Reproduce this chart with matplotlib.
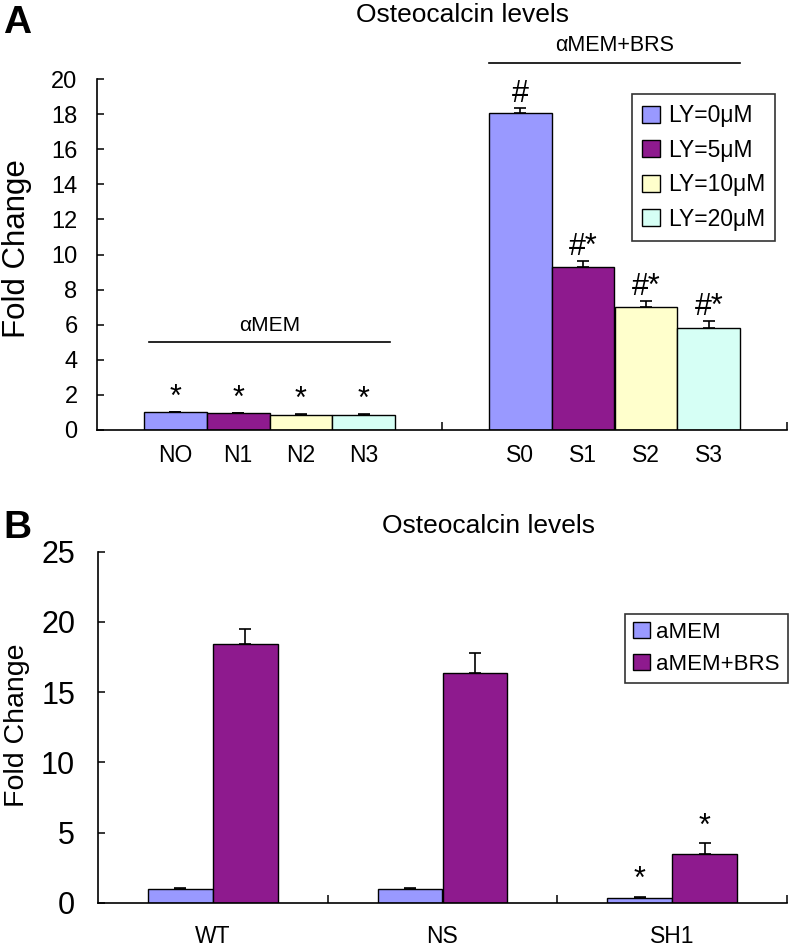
import numpy as np
import matplotlib
matplotlib.use("Agg")
import matplotlib.pyplot as plt

plt.rcParams["font.family"] = ["Liberation Sans", "DejaVu Sans"]

# ---- panel A: osteocalcin with LY294002 ----
groups_a = ["αMEM", "αMEM+BRS"]
series_a = ["LY=0μM", "LY=5μM", "LY=10μM", "LY=20μM"]
ticklabels_a = [["NO", "S0"], ["N1", "S1"], ["N2", "S2"], ["N3", "S3"]]
ly0 = [1.0, 18.05]
ly5 = [0.95, 9.3]
ly10 = [0.86, 6.99]
ly20 = [0.86, 5.79]
ly0_err = [0.02, 0.28]
ly5_err = [0.03, 0.35]
ly10_err = [0.08, 0.36]
ly20_err = [0.08, 0.44]
marks_a = [["*", "#"], ["*", "#*"], ["*", "#*"], ["*", "#*"]]

# ---- panel B: knockdown ----
cells_b = ["WT", "NS", "SH1"]
series_b = ["aMEM", "aMEM+BRS"]
amem_b = [0.95, 0.95, 0.31]
brs_b = [18.43, 16.34, 3.47]
amem_err_b = [0.12, 0.1, 0.12]
brs_err_b = [1.05, 1.47, 0.76]
marks_b = [["", "", "*"], ["", "", "*"]]

colors_a = ["#9999FF", "#8E1A8E", "#FFFFCC", "#D6FFF5"]
colors_b = ["#9999FF", "#8E1A8E"]

W, H = 792, 948
fig = plt.figure(figsize=(W / 100, H / 100), dpi=100)


def style_axes(ax, tick_size, ypad, xpad):
    for s in ("top", "right"):
        ax.spines[s].set_visible(False)
    for s in ("left", "bottom"):
        ax.spines[s].set_linewidth(1.2)
    ax.tick_params(axis="y", direction="in", length=5, width=1.1,
                   labelsize=tick_size, pad=ypad)
    ax.tick_params(axis="x", which="major", direction="in", length=6,
                   width=1.1, labelbottom=False)
    ax.tick_params(axis="x", which="minor", length=0, pad=xpad)


def top_marks(ax, xs, tops, marks, off, size):
    for x, t, m in zip(xs, tops, marks):
        if m:
            ax.annotate(m, (x, t), xytext=(0, off), textcoords="offset points",
                        ha="center", va="center", fontsize=size)


# ---------------- A ----------------
axA = fig.add_axes([97 / W, 1 - 430 / H, 690 / W, 351 / H])
x = np.arange(len(groups_a))
wa = 0.1826
vals = [ly0, ly5, ly10, ly20]
errs = [ly0_err, ly5_err, ly10_err, ly20_err]
centers = []
for i, (v, e) in enumerate(zip(vals, errs)):
    xi = x + (i - 1.5) * wa
    centers.append(xi)
    axA.bar(xi, v, wa, color=colors_a[i], edgecolor="black", linewidth=1.0,
            label=series_a[i], yerr=[np.zeros(len(e)), e], capsize=4,
            error_kw=dict(elinewidth=1.2, capthick=1.2, ecolor="black"))
    top_marks(axA, xi, np.array(v) + np.array(e), marks_a[i], 10, 22)

axA.set_xlim(-0.5, 1.5)
axA.set_ylim(0, 20)
axA.set_yticks(np.arange(0, 21, 2))
axA.set_xticks([0.5, 1.5])
minor = np.concatenate(centers)
axA.set_xticks(minor, minor=True)
axA.set_xticklabels([lab for labs in ticklabels_a for lab in labs],
                    minor=True, fontsize=16.5)
style_axes(axA, 17, 14, 10)
axA.set_ylabel("Fold Change", fontsize=22.5)
axA.yaxis.set_label_coords(-0.094, 0.516)

# group brackets
left = centers[0] - wa / 2
right = centers[-1] + wa / 2
bracket_y = [5.0, 20.9]
for g in range(len(groups_a)):
    inset = 0.017 if g == 0 else 0.0
    axA.plot([left[g] + inset, right[g] - inset], [bracket_y[g]] * 2,
             color="black", lw=1.2, clip_on=False)
    axA.annotate(groups_a[g], (x[g], bracket_y[g]), xytext=(0, 5),
                 textcoords="offset points", ha="center", va="bottom",
                 fontsize=15.5 if g else 15, annotation_clip=False)

legA = axA.legend(loc="upper right", bbox_to_anchor=(0.983, 0.957),
                  borderaxespad=0, fontsize=16.5, frameon=True, fancybox=False,
                  edgecolor="black", handlelength=0.75, handleheight=0.75,
                  handletextpad=0.35, labelspacing=0.5, borderpad=0.45)
legA.get_frame().set_linewidth(1.2)

fig.text(462 / W, 1 - 22 / H, "Osteocalcin levels", ha="center",
         va="baseline", fontsize=19)
fig.text(3 / W, 1 - 33 / H, "A", ha="left", va="baseline", fontsize=28,
         fontweight="bold")

# ---------------- B ----------------
axB = fig.add_axes([98 / W, 1 - 902.7 / H, 689 / W, 351 / H])
xb = np.arange(len(cells_b))
wb = 0.283
for i, (v, e) in enumerate([(amem_b, amem_err_b), (brs_b, brs_err_b)]):
    xi = xb + (i - 0.5) * wb
    axB.bar(xi, v, wb, color=colors_b[i], edgecolor="black", linewidth=1.0,
            label=series_b[i], yerr=[np.zeros(len(e)), e], capsize=4,
            error_kw=dict(elinewidth=1.2, capthick=1.2, ecolor="black"))
    top_marks(axB, xi, np.array(v) + np.array(e), marks_b[i], 12, 22)

axB.set_xlim(-0.5, 2.5)
axB.set_ylim(0, 25)
axB.set_yticks(np.arange(0, 26, 5))
axB.set_xticks([0.5, 1.5, 2.5])
axB.set_xticks(xb, minor=True)
axB.set_xticklabels(cells_b, minor=True, fontsize=16.5)
style_axes(axB, 22, 16.5, 16)
axB.set_ylabel("Fold Change", fontsize=20.5)
axB.yaxis.set_label_coords(-0.099, 0.506)

legB = axB.legend(loc="upper right", bbox_to_anchor=(1.001, 0.822),
                  borderaxespad=0, fontsize=16, frameon=True, fancybox=False,
                  edgecolor="black", handlelength=0.75, handleheight=0.75,
                  handletextpad=0.3, labelspacing=0.5, borderpad=0.35)
legB.get_frame().set_linewidth(1.2)

fig.text(488 / W, 1 - 533 / H, "Osteocalcin levels", ha="center",
         va="baseline", fontsize=19)
fig.text(3 / W, 1 - 538 / H, "B", ha="left", va="baseline", fontsize=28,
         fontweight="bold")

fig.savefig("out.png", dpi=100)
